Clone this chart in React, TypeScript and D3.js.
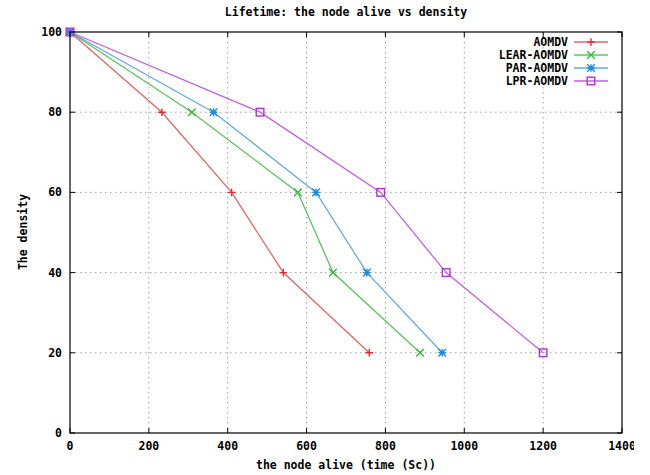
import React from "react";
import * as d3 from "d3";

const densities = [100, 80, 60, 40, 20];
const aomdv = [0, 233, 410, 541, 759];
const learAomdv = [0, 309, 578, 667, 888];
const parAomdv = [0, 364, 624, 753, 944];
const lprAomdv = [0, 482, 788, 954, 1200];
const seriesNames = ["AOMDV", "LEAR-AOMDV", "PAR-AOMDV", "LPR-AOMDV"];
const xTicks = [0, 200, 400, 600, 800, 1000, 1200, 1400];
const yTicks = [0, 20, 40, 60, 80, 100];

const W = 650, H = 475;
const M = { left: 70, right: 622, top: 32, bottom: 433 };
const FONT = "'DejaVu Sans Mono', monospace";

const lineColors = ["#e06666", "#5cc45c", "#66aade", "#c060e0"];
const markColors = ["#e82a2a", "#33bb33", "#1a8ae6", "#b030d6"];
const shapes = ["plus", "cross", "star", "square"];

function Marker({ x, y, shape, color }: { x: number; y: number; shape: string; color: string }) {
  const s = 3.8;
  const sw = 1.4;
  if (shape === "plus")
    return <path d={`M${x - s},${y}H${x + s}M${x},${y - s}V${y + s}`} stroke={color} strokeWidth={sw} fill="none" />;
  if (shape === "cross")
    return <path d={`M${x - s},${y - s}L${x + s},${y + s}M${x - s},${y + s}L${x + s},${y - s}`} stroke={color} strokeWidth={sw} fill="none" />;
  if (shape === "star")
    return (
      <path
        d={`M${x - s},${y}H${x + s}M${x},${y - s}V${y + s}M${x - s},${y - s}L${x + s},${y + s}M${x - s},${y + s}L${x + s},${y - s}`}
        stroke={color}
        strokeWidth={sw}
        fill="none"
      />
    );
  return <rect x={x - s} y={y - s} width={2 * s} height={2 * s} stroke={color} strokeWidth={sw} fill="none" />;
}

export default function App() {
  const x = d3.scaleLinear().domain([0, 1400]).range([M.left, M.right]);
  const y = d3.scaleLinear().domain([0, 100]).range([M.bottom, M.top]);
  const all = [aomdv, learAomdv, parAomdv, lprAomdv];
  const line = d3
    .line<[number, number]>()
    .x((d) => x(d[0]))
    .y((d) => y(d[1]));

  const legendY = [42, 55, 68, 81];

  return (
    <svg width={W} height={H} style={{ position: "absolute", left: 0, top: 0, background: "#fff" }} fontFamily={FONT} fontWeight="bold">
      <defs>
        <clipPath id="lastTick">
          <rect x={0} y={0} width={634} height={H} />
        </clipPath>
      </defs>
      <rect width={W} height={H} fill="#fff" />
      {xTicks.slice(1, -1).map((t) => (
        <line key={"gx" + t} x1={x(t)} x2={x(t)} y1={M.top} y2={M.bottom} stroke="#a0a0a0" strokeWidth={1} strokeDasharray="1.5,3.5" />
      ))}
      {yTicks.slice(1, -1).map((t) => (
        <line key={"gy" + t} x1={M.left} x2={M.right} y1={y(t)} y2={y(t)} stroke="#a0a0a0" strokeWidth={1} strokeDasharray="1.5,3.5" />
      ))}
      {xTicks.map((t) => (
        <g key={"tx" + t}>
          <line x1={x(t)} x2={x(t)} y1={M.bottom} y2={M.bottom - 5} stroke="#000" />
          <line x1={x(t)} x2={x(t)} y1={M.top} y2={M.top + 5} stroke="#000" />
          <text
            x={x(t)}
            y={M.bottom + 17}
            textAnchor="middle"
            fontSize={11.5}
            clipPath={t === 1400 ? "url(#lastTick)" : undefined}
          >
            {t}
          </text>
        </g>
      ))}
      {yTicks.map((t) => (
        <g key={"ty" + t}>
          <line x1={M.left} x2={M.left + 5} y1={y(t)} y2={y(t)} stroke="#000" />
          <line x1={M.right} x2={M.right - 5} y1={y(t)} y2={y(t)} stroke="#000" />
          <text x={M.left - 8} y={y(t) + 4} textAnchor="end" fontSize={11.5}>
            {t}
          </text>
        </g>
      ))}
      {all.map((xs, i) => {
        const pts: [number, number][] = xs.map((v, j) => [v, densities[j]]);
        return (
          <g key={"s" + i}>
            <path d={line(pts) || ""} fill="none" stroke={lineColors[i]} strokeWidth={1.3} />
            {pts.map((p, j) => (
              <Marker key={j} x={x(p[0])} y={y(p[1])} shape={shapes[i]} color={markColors[i]} />
            ))}
          </g>
        );
      })}
      <rect x={M.left} y={M.top} width={M.right - M.left} height={M.bottom - M.top} fill="none" stroke="#000" strokeWidth={1.2} />
      {seriesNames.map((n, i) => (
        <g key={"l" + i}>
          <text x={568} y={legendY[i] + 4} textAnchor="end" fontSize={11.5}>
            {n}
          </text>
          <line x1={574} x2={608} y1={legendY[i]} y2={legendY[i]} stroke={lineColors[i]} strokeWidth={1.3} />
          <Marker x={591} y={legendY[i]} shape={shapes[i]} color={markColors[i]} />
        </g>
      ))}
      <text x={346} y={16} textAnchor="middle" fontSize={11.5}>
        Lifetime: the node alive vs density
      </text>
      <text x={346} y={469} textAnchor="middle" fontSize={11.5}>
        the node alive (time (Sc))
      </text>
      <text transform="translate(27,232) rotate(-90)" textAnchor="middle" fontSize={11.5}>
        The density
      </text>
    </svg>
  );
}
